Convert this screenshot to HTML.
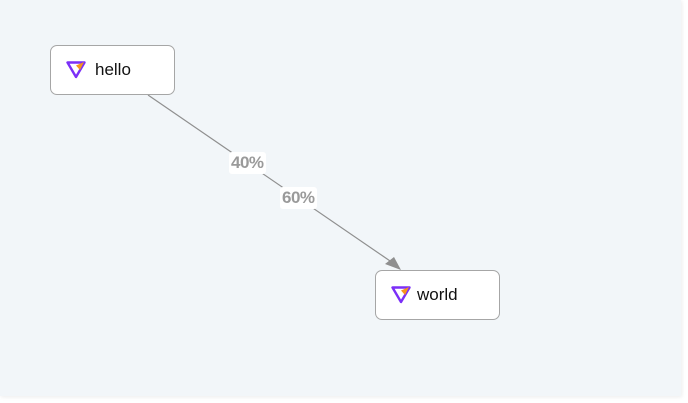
<!DOCTYPE html>
<html><head><meta charset="utf-8"><style>
html,body{margin:0;padding:0;width:688px;height:403px;background:#fff;overflow:hidden;font-family:"Liberation Sans",sans-serif}
.c{position:absolute;left:0;top:0;width:681px;height:396px;background:#f2f6f9;box-shadow:1px 1px 4px rgba(0,0,0,0.08)}
.n{position:absolute;width:123px;height:48px;border:1px solid #a6a6a6;border-radius:7px;background:#fff;box-sizing:content-box}
.n span{position:absolute;left:44px;top:14px;font-size:17px;color:#111}
.n svg{position:absolute;left:15px;top:15px}
.l{position:absolute;background:#fff;color:#9a9a9a;font-weight:bold;font-size:17px;padding:1px 2px;border-radius:3px;letter-spacing:-0.5px}
</style></head><body>
<div class="c"></div>
<svg style="position:absolute;left:0;top:0" width="688" height="403">
<line x1="148" y1="95" x2="393" y2="263" stroke="#8f8f8f" stroke-width="1.2"/>
<polygon points="401,270 385,264 394,257" fill="#8f8f8f"/>
</svg>
<div class="l" style="left:229px;top:152px">40%</div>
<div class="l" style="left:280px;top:187px">60%</div>
<div class="n" style="left:50px;top:45px">
<svg width="20" height="18" viewBox="0 0 20 18"><polygon points="1.5,1.5 18.5,1.5 10,16" fill="none" stroke="#7b2ff7" stroke-width="2.4" stroke-linejoin="round"/><polygon points="10,4.5 18,1 14,9" fill="#f7941d"/></svg>
<span>hello</span></div>
<div class="n" style="left:375px;top:270px">
<svg width="20" height="18" viewBox="0 0 20 18"><polygon points="1.5,1.5 18.5,1.5 10,16" fill="none" stroke="#7b2ff7" stroke-width="2.4" stroke-linejoin="round"/><polygon points="10,4.5 18,1 14,9" fill="#f7941d"/></svg>
<span style="left:41px">world</span></div>
</body></html>
